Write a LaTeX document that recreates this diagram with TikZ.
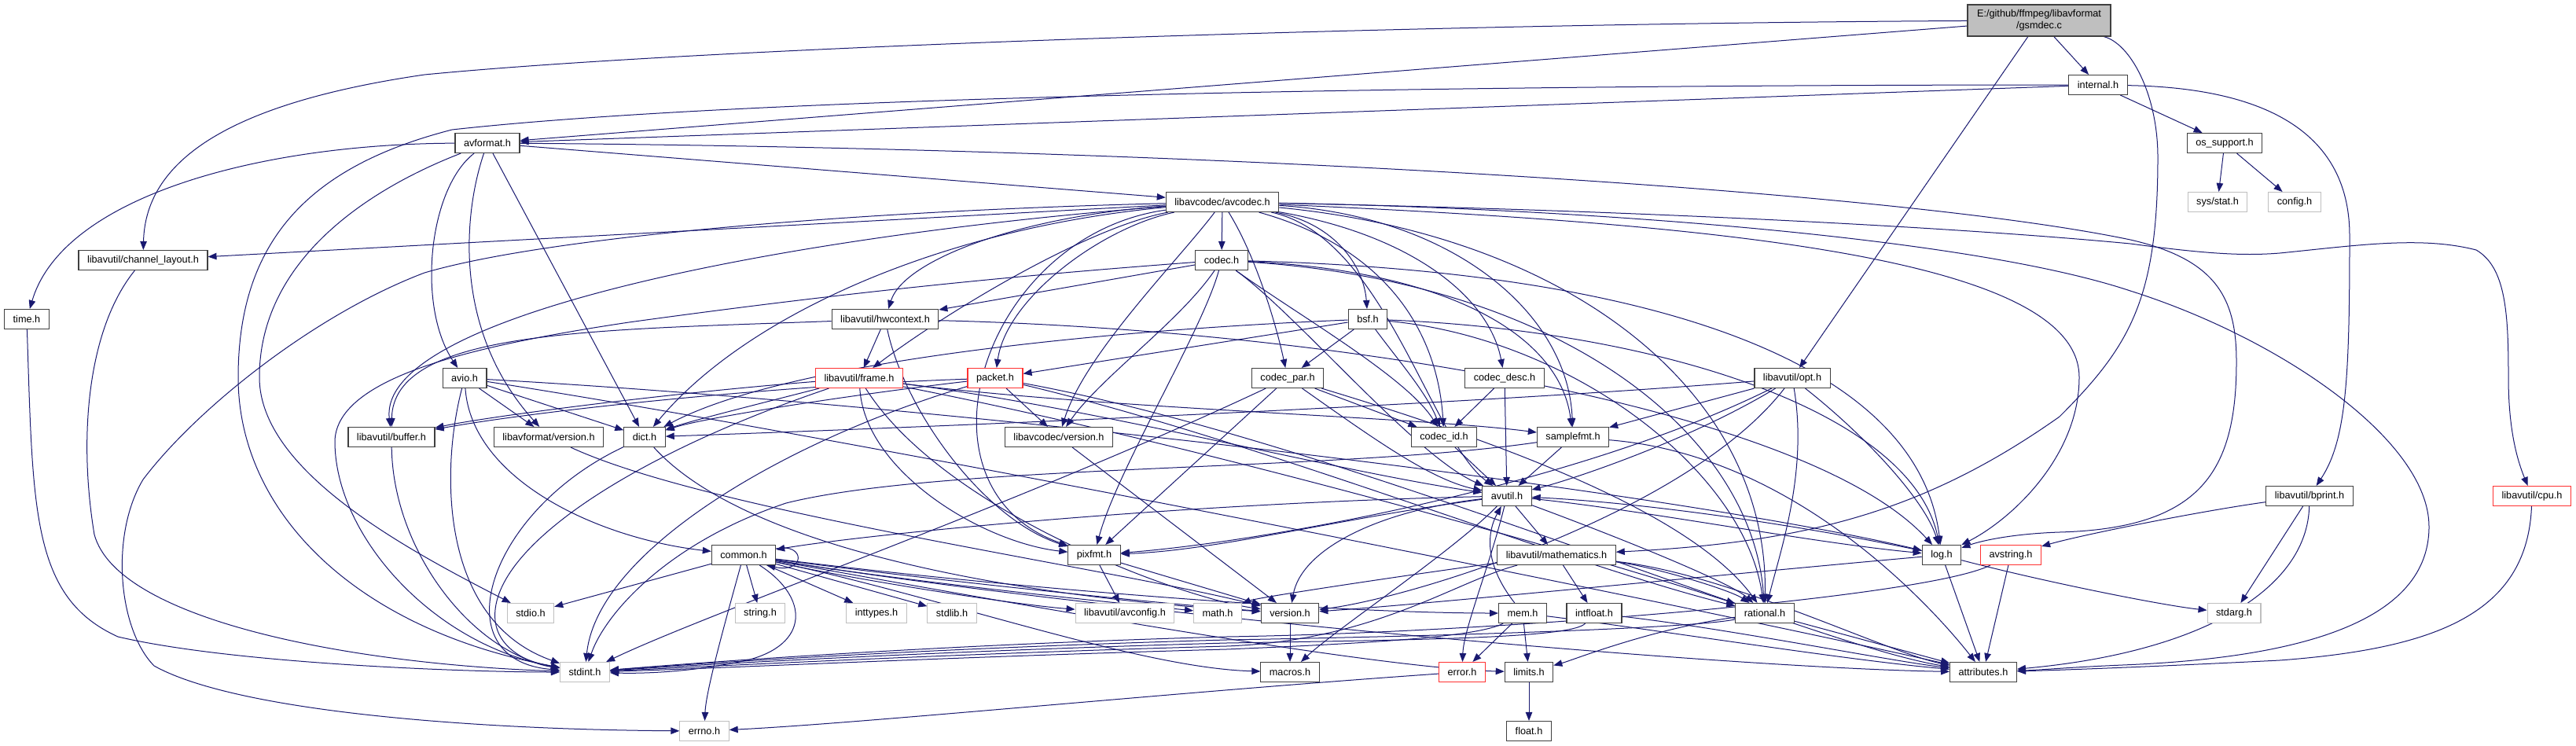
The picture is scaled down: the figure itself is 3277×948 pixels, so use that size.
\documentclass[tikz,border=0pt]{standalone}
\usepackage{fontspec}
\setmainfont{Liberation Sans}
\usetikzlibrary{arrows.meta,backgrounds}
\definecolor{edgec}{RGB}{25,25,112}
\definecolor{boxc}{RGB}{64,64,64}
\definecolor{grayc}{RGB}{191,191,191}
\definecolor{redc}{RGB}{255,50,50}
\definecolor{rootfill}{RGB}{191,191,191}
\tikzset{
  nb/.style={draw=boxc, fill=white, line width=1.1pt, minimum height=25pt, inner xsep=11pt, inner ysep=0pt, font=\fontsize{12.7pt}{15pt}\selectfont},
  ng/.style={nb, draw=grayc},
  nr/.style={nb, draw=redc},
  e/.style={draw=edgec, line width=1pt, -{Triangle[length=11pt,width=8.5pt]}},
}
\begin{document}
\begin{tikzpicture}[x=1pt,y=-1pt]
\useasboundingbox (0,0) rectangle (3277,948);
% nodes
\node[nb, fill=rootfill, align=center, minimum height=40pt, minimum width=182pt] (root) at (2594,26) {E:/github/ffmpeg/libavformat\\/gsmdec.c};
\node[nb] (internal) at (2669,108) {internal.h};
\node[nb] (avformat) at (620,182) {avformat.h};
\node[nb] (os_support) at (2830,182) {os\_support.h};
\node[nb] (avcodec) at (1555,257) {libavcodec/avcodec.h};
\node[ng] (sysstat) at (2821,257) {sys/stat.h};
\node[ng] (config) at (2919,257) {config.h};
\node[nb] (codec) at (1554,331) {codec.h};
\node[nb] (chlayout) at (182,331) {libavutil/channel\_layout.h};
\node[nb] (hwcontext) at (1126,406) {libavutil/hwcontext.h};
\node[nb] (bsf) at (1740,406) {bsf.h};
\node[nb] (timeh) at (34,406) {time.h};
\node[nr] (frame) at (1093,481) {libavutil/frame.h};
\node[nr] (packet) at (1266,481) {packet.h};
\node[nb] (codecpar) at (1638,481) {codec\_par.h};
\node[nb] (codecdesc) at (1914,481) {codec\_desc.h};
\node[nb] (opt) at (2280,481) {libavutil/opt.h};
\node[nb] (avio) at (591,481) {avio.h};
\node[nb] (buffer) at (498,556) {libavutil/buffer.h};
\node[nb] (lavfversion) at (698,556) {libavformat/version.h};
\node[nb] (dict) at (820,556) {dict.h};
\node[nb] (lavcversion) at (1347,556) {libavcodec/version.h};
\node[nb] (codecid) at (1837,556) {codec\_id.h};
\node[nb] (samplefmt) at (2001,556) {samplefmt.h};
\node[nb] (avutil) at (1917,631) {avutil.h};
\node[nb] (bprint) at (2938,631) {libavutil/bprint.h};
\node[nr] (cpu) at (3221,631) {libavutil/cpu.h};
\node[nb] (common) at (946,706) {common.h};
\node[nb] (pixfmt) at (1392,706) {pixfmt.h};
\node[nb] (mathematics) at (1980,706) {libavutil/mathematics.h};
\node[nb] (logh) at (2470,706) {log.h};
\node[nr] (avstring) at (2558,706) {avstring.h};
\node[ng] (stdio) at (675,780) {stdio.h};
\node[ng] (stringh) at (967,780) {string.h};
\node[ng] (inttypes) at (1115,780) {inttypes.h};
\node[ng] (stdlib) at (1211,780) {stdlib.h};
\node[ng] (avconfig) at (1431,780) {libavutil/avconfig.h};
\node[ng] (mathh) at (1549,780) {math.h};
\node[nb] (version) at (1641,780) {version.h};
\node[nb] (mem) at (1937,780) {mem.h};
\node[nb] (intfloat) at (2028,780) {intfloat.h};
\node[nb] (rational) at (2245,780) {rational.h};
\node[ng] (stdarg) at (2842,780) {stdarg.h};
\node[ng] (stdint) at (744,855) {stdint.h};
\node[nb] (macros) at (1641,855) {macros.h};
\node[nr] (errorh) at (1860,855) {error.h};
\node[nb] (limits) at (1945,855) {limits.h};
\node[nb] (attributes) at (2523,855) {attributes.h};
\node[ng] (errno) at (896,930) {errno.h};
\node[nb] (floath) at (1945,930) {float.h};

\begin{scope}[on background layer]
\fill[white] (0,0) rectangle (3277,948);
% root
\draw[e] (root) .. controls (1800,30) and (900,60) .. (540,95) .. controls (300,130) and (185,200) .. (chlayout);
\draw[e] (root) -- (avformat);
\draw[e] (root) -- (internal);
\draw[e] (root) -- (opt);
\draw[e] (root) .. controls (2710,55) and (2745,120) .. (2745,200) .. controls (2745,380) and (2710,440) .. (2620,530) .. controls (2450,650) and (2300,690) .. (mathematics);
% internal
\draw[e] (internal) -- (avformat);
\draw[e] (internal) .. controls (2000,108) and (1000,118) .. (575,165) .. controls (400,210) and (303,300) .. (303,480) .. controls (303,650) and (450,800) .. (stdint);
\draw[e] (internal) -- (os_support);
\draw[e] (internal) .. controls (2900,112) and (2989,180) .. (2989,300) .. controls (2989,480) and (2985,560) .. (bprint);
% os_support
\draw[e] (os_support) -- (sysstat);
\draw[e] (os_support) -- (config);
% avformat
\draw[e] (avformat) .. controls (330,183) and (80,250) .. (timeh);
\draw[e] (avformat) .. controls (470,240) and (330,330) .. (330,480) .. controls (330,600) and (520,700) .. (stdio);
\draw[e] (avformat) -- (avcodec);
\draw[e] (avformat) -- (dict);
\draw[e] (avformat) .. controls (1500,188) and (2400,240) .. (2710,305) .. controls (2820,330) and (2845,380) .. (2845,460) .. controls (2845,600) and (2800,672) .. (2620,677) .. controls (2560,679) and (2520,688) .. (logh);
\draw[e] (avformat) .. controls (545,240) and (530,390) .. (avio);
\draw[e] (avformat) .. controls (590,270) and (575,420) .. (lavfversion);
% avio
\draw[e] (avio) -- (dict);
\draw[e] (avio) -- (lavfversion);
\draw[e] (avio) .. controls (600,610) and (760,685) .. (common);
\draw[e] (avio) .. controls (560,600) and (560,790) .. (stdint);
\draw[e] (avio) .. controls (1200,515) and (2100,620) .. (logh);
\draw[e] (avio) .. controls (1100,560) and (2100,760) .. (attributes);
% avcodec
\draw[e] (avcodec) .. controls (1100,268) and (700,300) .. (540,347) .. controls (400,400) and (250,520) .. (182,610) .. controls (140,680) and (150,800) .. (196,847) .. controls (300,905) and (600,928) .. (errno);
\draw[e] (avcodec) .. controls (1850,275) and (1995,400) .. (samplefmt);
\draw[e] (avcodec) .. controls (2000,265) and (2500,300) .. (2710,370) .. controls (2900,430) and (3090,560) .. (3090,670) .. controls (3090,800) and (2900,838) .. (2700,846) .. controls (2630,849) and (2600,852) .. (attributes);
\draw[e] (avcodec) .. controls (1760,300) and (1820,560) .. (avutil);
\draw[e] (avcodec) .. controls (1000,300) and (480,400) .. (buffer);
\draw[e] (avcodec) .. controls (2100,268) and (2500,290) .. (2710,310) .. controls (2800,322) and (2850,326) .. (2900,322) .. controls (3000,312) and (3080,300) .. (3150,318) .. controls (3188,340) and (3191,400) .. (3191,480) .. controls (3191,540) and (3200,580) .. (cpu);
\draw[e] (avcodec) -- (chlayout);
\draw[e] (avcodec) .. controls (1200,290) and (950,400) .. (dict);
\draw[e] (avcodec) .. controls (1380,290) and (1200,400) .. (frame);
\draw[e] (avcodec) .. controls (1300,275) and (1150,330) .. (hwcontext);
\draw[e] (avcodec) .. controls (2200,285) and (2645,330) .. (2645,480) .. controls (2645,580) and (2560,660) .. (logh);
\draw[e] (avcodec) .. controls (1250,300) and (1150,620) .. (pixfmt);
\draw[e] (avcodec) .. controls (2000,300) and (2250,500) .. (rational);
\draw[e] (avcodec) .. controls (1700,285) and (1735,340) .. (bsf);
\draw[e] (avcodec) -- (codec);
\draw[e] (avcodec) .. controls (1800,300) and (1895,380) .. (codecdesc);
\draw[e] (avcodec) .. controls (1600,330) and (1625,420) .. (codecpar);
\draw[e] (avcodec) .. controls (1780,320) and (1830,440) .. (codecid);
\draw[e] (avcodec) .. controls (1400,290) and (1280,380) .. (packet);
\draw[e] (avcodec) .. controls (1500,330) and (1380,450) .. (lavcversion);
% codec
\draw[e] (codec) .. controls (1300,350) and (1090,370) .. (800,410) .. controls (600,440) and (430,480) .. (426,560) .. controls (425,680) and (550,820) .. (stdint);
\draw[e] (codec) .. controls (1650,400) and (1800,580) .. (avutil);
\draw[e] (codec) -- (hwcontext);
\draw[e] (codec) .. controls (2100,345) and (2440,460) .. (logh);
\draw[e] (codec) .. controls (1530,420) and (1420,600) .. (pixfmt);
\draw[e] (codec) .. controls (2000,360) and (2230,560) .. (rational);
\draw[e] (codec) .. controls (1850,345) and (1985,430) .. (samplefmt);
\draw[e] (codec) .. controls (1650,400) and (1790,480) .. (codecid);
\draw[e] (codec) .. controls (1500,410) and (1400,480) .. (lavcversion);
% hwcontext
\draw[e] (hwcontext) .. controls (750,420) and (500,420) .. (buffer);
\draw[e] (hwcontext) -- (frame);
\draw[e] (hwcontext) .. controls (1700,420) and (2300,520) .. (logh);
\draw[e] (hwcontext) .. controls (1150,520) and (1250,660) .. (pixfmt);
% bsf
\draw[e] (bsf) .. controls (1400,420) and (1000,460) .. (dict);
\draw[e] (bsf) .. controls (2100,420) and (2430,520) .. (logh);
\draw[e] (bsf) .. controls (2000,430) and (2220,600) .. (rational);
\draw[e] (bsf) .. controls (1780,460) and (1815,500) .. (codecid);
\draw[e] (bsf) -- (codecpar);
\draw[e] (bsf) -- (packet);
% frame
\draw[e] (frame) .. controls (800,580) and (620,700) .. (630,790) .. controls (635,830) and (680,845) .. (stdint);
\draw[e] (frame) .. controls (1400,520) and (1700,600) .. (avutil);
\draw[e] (frame) .. controls (850,500) and (620,530) .. (buffer);
\draw[e] (frame) .. controls (980,510) and (880,535) .. (dict);
\draw[e] (frame) .. controls (1500,560) and (2000,700) .. (rational);
\draw[e] (frame) .. controls (1400,520) and (1800,530) .. (samplefmt);
\draw[e] (frame) .. controls (1100,600) and (1250,690) .. (pixfmt);
\draw[e] (frame) .. controls (1200,650) and (1500,760) .. (version);
% packet
\draw[e] (packet) -- (lavcversion);
\draw[e] (packet) .. controls (1000,490) and (700,520) .. (buffer);
\draw[e] (packet) .. controls (1100,500) and (900,530) .. (dict);
\draw[e] (packet) .. controls (1000,560) and (760,700) .. (stdint);
\draw[e] (packet) .. controls (1600,560) and (2000,720) .. (rational);
\draw[e] (packet) .. controls (1700,560) and (2300,820) .. (attributes);
% codecpar
\draw[e] (codecpar) .. controls (1300,640) and (900,780) .. (stdint);
\draw[e] (codecpar) .. controls (1750,560) and (1820,610) .. (avutil);
\draw[e] (codecpar) .. controls (1900,560) and (2150,650) .. (rational);
\draw[e] (codecpar) -- (pixfmt);
\draw[e] (codecpar) -- (codecid);
% codecdesc
\draw[e] (codecdesc) -- (avutil);
\draw[e] (codecdesc) -- (codecid);
% opt
\draw[e] (opt) .. controls (2300,600) and (2265,700) .. (rational);
\draw[e] (opt) .. controls (2150,560) and (2000,610) .. (avutil);
\draw[e] (opt) .. controls (1800,520) and (1000,550) .. (dict);
\draw[e] (opt) .. controls (2380,560) and (2450,640) .. (logh);
\draw[e] (opt) .. controls (2000,620) and (1600,690) .. (pixfmt);
\draw[e] (opt) -- (samplefmt);
\draw[e] (opt) .. controls (2150,650) and (1800,760) .. (version);
% misc
\draw[e] (buffer) .. controls (500,700) and (600,830) .. (stdint);
\draw[e] (lavfversion) .. controls (900,650) and (1400,720) .. (version);
\draw[e] (dict) .. controls (620,650) and (560,840) .. (stdint);
\draw[e] (dict) .. controls (950,700) and (1300,760) .. (version);
\draw[e] (lavcversion) -- (version);
\draw[e] (samplefmt) .. controls (1700,600) and (1200,590) .. (1000,640) .. controls (850,690) and (770,780) .. (stdint);
\draw[e] (samplefmt) -- (avutil);
\draw[e] (samplefmt) .. controls (2300,580) and (2480,800) .. (attributes);
\draw[e] (codecid) -- (avutil);
% avutil
\draw[e] (avutil) .. controls (1500,640) and (1100,680) .. (common);
\draw[e] (avutil) .. controls (1895,720) and (1862,800) .. (errorh);
\draw[e] (avutil) .. controls (2050,680) and (2200,740) .. (rational);
\draw[e] (avutil) .. controls (1750,650) and (1655,700) .. (version);
\draw[e] (avutil) .. controls (1850,700) and (1700,800) .. (macros);
\draw[e] (avutil) -- (mathematics);
\draw[e] (avutil) .. controls (2100,650) and (2300,690) .. (logh);
\draw[e] (avutil) .. controls (1700,660) and (1550,700) .. (pixfmt);
% common
\draw[e] ([yshift=-5pt]common.north east) .. controls (1025,690) and (1025,730) .. ([xshift=-12pt]common.south east);
\draw[e] (common) -- (stdio);
\draw[e] (common) -- (stringh);
\draw[e] (common) -- (inttypes);
\draw[e] (common) -- (stdlib);
\draw[e] (common) .. controls (1100,740) and (1300,770) .. (avconfig);
\draw[e] (common) .. controls (1150,740) and (1450,770) .. (mathh);
\draw[e] (common) .. controls (1200,740) and (1500,770) .. (version);
\draw[e] (common) .. controls (1030,760) and (1030,820) .. (950,840) .. controls (880,855) and (820,857) .. (stdint);
\draw[e] (common) .. controls (920,800) and (898,880) .. (errno);
\draw[e] (common) .. controls (1200,760) and (1450,850) .. (macros);
\draw[e] (common) .. controls (1300,750) and (1700,780) .. (mem);
\draw[e] (common) .. controls (1300,770) and (1750,850) .. (limits);
\draw[e] (common) .. controls (1400,780) and (2200,850) .. (attributes);
% pixfmt
\draw[e] (pixfmt) -- (avconfig);
\draw[e] (pixfmt) -- (version);
% mathematics
\draw[e] (mathematics) .. controls (1850,740) and (1750,815) .. (1560,822) .. controls (1200,832) and (900,848) .. (stdint);
\draw[e] (mathematics) .. controls (1800,730) and (1600,760) .. (mathh);
\draw[e] (mathematics) .. controls (2200,730) and (2400,830) .. (attributes);
\draw[e] (mathematics) .. controls (2100,720) and (2200,750) .. (rational);
\draw[e] (mathematics) -- (intfloat);
% log
\draw[e] (logh) .. controls (2600,740) and (2750,770) .. (stdarg);
\draw[e] (logh) .. controls (2300,670) and (2100,640) .. (avutil);
\draw[e] (logh) -- (attributes);
\draw[e] (logh) .. controls (2200,730) and (1800,770) .. (version);
% avstring
\draw[e] (avstring) -- (attributes);
\draw[e] (avstring) .. controls (2450,760) and (1900,805) .. (1560,810) .. controls (1200,820) and (900,842) .. (stdint);
% bprint
\draw[e] (bprint) -- (stdarg);
\draw[e] (bprint) .. controls (2935,750) and (2800,830) .. (attributes);
\draw[e] (bprint) .. controls (2800,650) and (2650,680) .. (avstring);
% cpu
\draw[e] (cpu) .. controls (3215,780) and (3100,825) .. (2900,840) .. controls (2700,850) and (2600,853) .. (attributes);
% lower
\draw[e] (version) -- (macros);
\draw[e] (mem) -- (limits);
\draw[e] (mem) -- (errorh);
\draw[e] (mem) .. controls (1880,810) and (1750,818) .. (1560,826) .. controls (1200,836) and (900,851) .. (stdint);
\draw[e] (mem) .. controls (2100,800) and (2350,840) .. (attributes);
\draw[e] (mem) .. controls (1890,720) and (1890,680) .. (avutil);
\draw[e] (intfloat) .. controls (2000,812) and (1800,814) .. (1560,818) .. controls (1200,828) and (900,845) .. (stdint);
\draw[e] (intfloat) .. controls (2200,800) and (2400,840) .. (attributes);
\draw[e] (rational) .. controls (2150,800) and (1800,810) .. (1560,814) .. controls (1200,824) and (900,843) .. (stdint);
\draw[e] (rational) .. controls (2100,800) and (2000,840) .. (limits);
\draw[e] (rational) -- (attributes);
\draw[e] (errorh) .. controls (1500,880) and (1100,920) .. (errno);
\draw[e] (limits) -- (floath);
\draw[e] (timeh) .. controls (42,650) and (40,760) .. (150,810) .. controls (300,845) and (600,855) .. (stdint);
\draw[e] (chlayout) .. controls (110,420) and (100,560) .. (120,680) .. controls (150,790) and (450,845) .. (stdint);
\end{scope}
\end{tikzpicture}
\end{document}
